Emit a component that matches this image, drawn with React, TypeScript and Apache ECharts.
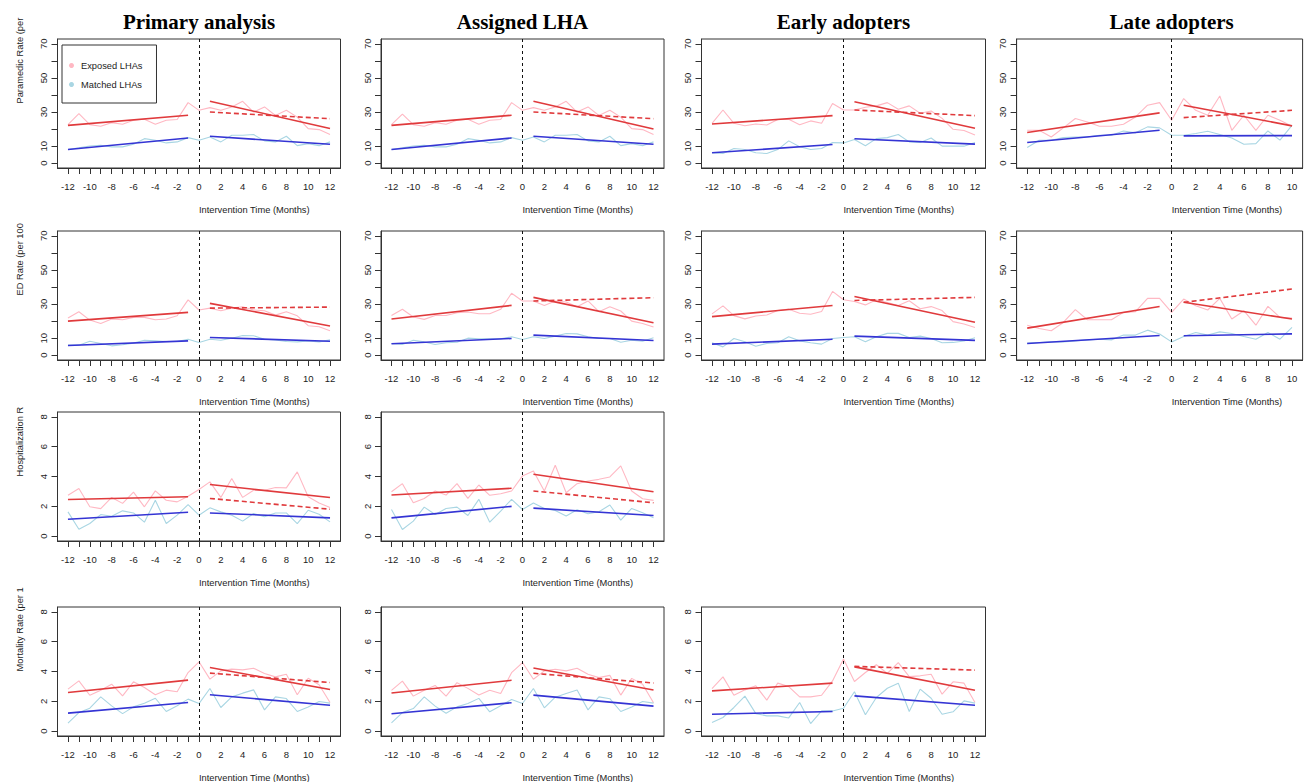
import React, { useEffect, useRef } from 'react';
import * as echarts from 'echarts';

// ---------- axis values ----------
const MONTHS = [-12, -11, -10, -9, -8, -7, -6, -5, -4, -3, -2, -1, 0, 1, 2, 3, 4, 5, 6, 7, 8, 9, 10, 11, 12];
const MONTHS_LATE = [-12, -11, -10, -9, -8, -7, -6, -5, -4, -3, -2, -1, 0, 1, 2, 3, 4, 5, 6, 7, 8, 9, 10];
const PRE_X = [-12, -1];
const POST_X = [1, 12];
const POST_X_LATE = [1, 10];
const X_LABELS = [-12, -10, -8, -6, -4, -2, 0, 2, 4, 6, 8, 10, 12];
const X_LABELS_LATE = [-12, -10, -8, -6, -4, -2, 0, 2, 4, 6, 8, 10];
const Y_TICKS_RATE = [0, 10, 20, 30, 40, 50, 60, 70];
const Y_LABELS_RATE = [0, 10, 30, 50, 70];
const Y_TICKS_SMALL = [0, 2, 4, 6, 8];

const TITLES = ['Primary analysis', 'Assigned LHA', 'Early adopters', 'Late adopters'];
const Y_NAMES = ['Paramedic Rate (per', 'ED Rate (per 100', 'Hospitalization R', 'Mortality Rate (per 1'];
const X_NAME = 'Intervention Time (Months)';
const LEGEND_NAMES = ['Exposed LHAs', 'Matched LHAs'];

// ---------- Paramedic rate ----------
const PARA_PRIMARY_EXP = [22.6, 29.1, 22.6, 21.7, 23.8, 22.8, 25.2, 25.8, 22.8, 25.2, 25.6, 35.5, 31, 32.6, 31, 33, 36.3, 30, 33, 28, 31, 27, 20.3, 19.7, 16.8];
const PARA_PRIMARY_MAT = [8, 9, 10.1, 10.5, 9.6, 9.6, 11.1, 14.4, 13.5, 11.9, 12.5, 15, 13.5, 15.4, 12.5, 16.4, 16.4, 16.8, 13.1, 12.5, 15.8, 10.3, 11.5, 10.3, 12.5];
const PARA_PRIMARY_RED_PRE = [22.2, 28.1];
const PARA_PRIMARY_RED_POST = [36.3, 20.3];
const PARA_PRIMARY_RED_CF = [30, 26.1];
const PARA_PRIMARY_BLUE_PRE = [8, 14.8];
const PARA_PRIMARY_BLUE_POST = [15.8, 11.1];

const PARA_ASSIGNED_EXP = [22.6, 28.8, 22.6, 21.7, 23.8, 22.8, 25.2, 25.8, 22.8, 25.2, 25.6, 35.5, 31, 32.6, 31, 33, 36.3, 30, 33, 28, 31, 27, 20.3, 19.7, 16.8];
const PARA_ASSIGNED_MAT = [8, 9, 10.1, 10.5, 9.6, 9.6, 11.1, 14.4, 13.5, 11.9, 12.5, 15, 13.5, 15.4, 12.5, 16.4, 16.4, 16.8, 13.1, 12.5, 15.8, 10.3, 11.5, 10.3, 12.5];
const PARA_ASSIGNED_RED_PRE = [22.2, 28.1];
const PARA_ASSIGNED_RED_POST = [36.3, 20.1];
const PARA_ASSIGNED_RED_CF = [30, 26.1];
const PARA_ASSIGNED_BLUE_PRE = [8, 14.8];
const PARA_ASSIGNED_BLUE_POST = [15.8, 11.1];

const PARA_EARLY_EXP = [23.4, 31.2, 23.4, 22, 23, 22.4, 25.6, 25.8, 22.6, 24.8, 23.4, 35, 31.2, 31.2, 32.8, 33.6, 35.5, 31.6, 33.6, 29.3, 30.6, 26.3, 19.9, 19.2, 16.6];
const PARA_EARLY_MAT = [6.1, 5.7, 8.6, 8, 6.1, 5.7, 8, 13.1, 9.6, 8, 8.6, 12.1, 11.9, 13.9, 10.2, 14.4, 15, 16.8, 12.5, 12.1, 14.8, 10, 10, 10, 12.1];
const PARA_EARLY_RED_PRE = [23, 27.9];
const PARA_EARLY_RED_POST = [36, 20.5];
const PARA_EARLY_RED_CF = [31.2, 27.9];
const PARA_EARLY_BLUE_PRE = [6.1, 11];
const PARA_EARLY_BLUE_POST = [14.3, 11.2];

const PARA_LATE_EXP = [19.3, 19.3, 15.4, 20.7, 26.2, 24.2, 21.7, 21.7, 22.8, 27.1, 34, 35.5, 25.2, 37.9, 31, 28.1, 39.4, 19.3, 28.1, 19.3, 28.1, 25.2, 21.7];
const PARA_LATE_MAT = [9.2, 13.5, 13.5, 15, 15.4, 15.4, 16.4, 16.4, 18.9, 17.8, 21.3, 20.7, 16.4, 16.4, 17.4, 18.7, 16.8, 14.8, 11.1, 11.5, 18.9, 13.5, 22.2];
const PARA_LATE_RED_PRE = [18, 29.5];
const PARA_LATE_RED_POST = [34, 21.9];
const PARA_LATE_RED_CF = [26.7, 31];
const PARA_LATE_BLUE_PRE = [12.1, 19.3];
const PARA_LATE_BLUE_POST = [16, 16.2];

// ---------- ED rate ----------
const ED_PRIMARY_EXP = [21.8, 25.5, 20.6, 18.6, 21.2, 20.8, 22.2, 22.2, 20.8, 21.2, 23.1, 32.4, 26.5, 27.6, 26.1, 27.6, 28.4, 26.5, 26.1, 23.5, 25.5, 23.1, 17.3, 16.7, 14.3];
const ED_PRIMARY_MAT = [5.9, 5.9, 8.2, 6.9, 5.5, 6.1, 7.1, 8.8, 8.4, 8, 8, 9.4, 7.5, 9.4, 8.8, 10, 11.6, 11.4, 9.4, 9, 8, 7.8, 8.4, 7.8, 9];
const ED_PRIMARY_RED_PRE = [20, 25.1];
const ED_PRIMARY_RED_POST = [30.4, 17.1];
const ED_PRIMARY_RED_CF = [27.6, 28.2];
const ED_PRIMARY_BLUE_PRE = [5.7, 8.4];
const ED_PRIMARY_BLUE_POST = [10.4, 8.2];

const ED_ASSIGNED_EXP = [23.3, 26.9, 22.4, 21, 23.3, 23.3, 24.9, 25.3, 24.3, 24.3, 26.9, 36.3, 31.8, 31.8, 29.2, 31.8, 31.2, 28.4, 31.8, 25.5, 28.4, 25.9, 20, 18.6, 16.5];
const ED_ASSIGNED_MAT = [6.9, 6.3, 8.8, 7.8, 6.3, 7.3, 7.6, 10, 9.6, 9.6, 9.6, 10.8, 9.2, 10.8, 9.8, 11.2, 12.7, 12.5, 10.8, 9.8, 9.8, 7.6, 8.8, 8.2, 10.2];
const ED_ASSIGNED_RED_PRE = [21.2, 29.2];
const ED_ASSIGNED_RED_POST = [33.9, 19];
const ED_ASSIGNED_RED_CF = [31.8, 33.7];
const ED_ASSIGNED_BLUE_PRE = [6.7, 9.8];
const ED_ASSIGNED_BLUE_POST = [11.8, 8.6];

const ED_EARLY_EXP = [24.2, 28.9, 23.2, 21.3, 23, 23.6, 26.2, 27, 24.6, 24, 25.6, 37.4, 32.5, 31.5, 29.5, 32.5, 30.9, 29.1, 31.9, 27.2, 28.5, 26.2, 19.7, 18.3, 16.3];
const ED_EARLY_MAT = [7.3, 4.9, 9.8, 7.9, 5.3, 6.9, 7.3, 10.8, 8.4, 7.3, 6.5, 9.8, 10.4, 10.8, 7.9, 10.8, 12.8, 12.8, 10.4, 11.2, 9.8, 7.3, 7.5, 8.3, 10.2];
const ED_EARLY_RED_PRE = [22.6, 29.1];
const ED_EARLY_RED_POST = [34.4, 19.3];
const ED_EARLY_RED_CF = [32.1, 33.9];
const ED_EARLY_BLUE_PRE = [6.5, 9.4];
const ED_EARLY_BLUE_POST = [11.2, 8.7];

const ED_LATE_EXP = [17.6, 15.7, 14.3, 19.2, 26.7, 20.8, 20.8, 20.8, 25.1, 25.5, 33.3, 33.3, 25.1, 32.9, 29, 26.5, 33.3, 21.2, 26.1, 17.6, 28.6, 22.2, 21.8];
const ED_LATE_MAT = [7.1, 7.5, 7.8, 7.8, 8.4, 9, 9.4, 9, 11.8, 11.8, 14.7, 12.4, 7.8, 11, 13.3, 11.8, 13.7, 12.7, 11, 9.4, 13.3, 9.4, 16.3];
const ED_LATE_RED_PRE = [15.9, 28.6];
const ED_LATE_RED_POST = [31, 21.2];
const ED_LATE_RED_CF = [31, 38.8];
const ED_LATE_BLUE_PRE = [6.9, 11.6];
const ED_LATE_BLUE_POST = [11.4, 12.5];

// ---------- Hospitalization rate ----------
const HOSP_PRIMARY_EXP = [2.75, 3.2, 1.97, 1.85, 2.6, 2.2, 2.95, 1.97, 3.04, 2.41, 2.3, 2.68, 3.13, 3.64, 2.6, 3.87, 2.6, 3.08, 3.08, 3.26, 3.24, 4.31, 2.64, 2.23, 1.92];
const HOSP_PRIMARY_MAT = [1.63, 0.47, 0.85, 1.45, 1.34, 1.7, 1.56, 0.94, 2.41, 0.85, 1.41, 2.12, 1.41, 1.9, 1.63, 1.41, 1.01, 1.52, 1.3, 1.56, 1.56, 0.85, 1.74, 1.47, 0.96];
const HOSP_PRIMARY_RED_PRE = [2.46, 2.64];
const HOSP_PRIMARY_RED_POST = [3.46, 2.59];
const HOSP_PRIMARY_RED_CF = [2.53, 1.81];
const HOSP_PRIMARY_BLUE_PRE = [1.14, 1.61];
const HOSP_PRIMARY_BLUE_POST = [1.56, 1.23];

const HOSP_ASSIGNED_EXP = [2.98, 3.52, 2.24, 2.53, 3.03, 2.76, 3.52, 2.53, 3.43, 2.74, 2.85, 3.03, 4.04, 4.37, 3.03, 4.75, 2.91, 3.52, 3.7, 3.81, 3.97, 4.71, 3.03, 2.51, 2.4];
const HOSP_ASSIGNED_MAT = [1.79, 0.45, 1.01, 1.95, 1.46, 1.86, 1.95, 1.39, 2.47, 0.94, 1.68, 2.47, 1.79, 2.22, 1.86, 1.73, 1.35, 1.77, 1.5, 1.64, 2.09, 1.08, 1.86, 1.57, 1.23];
const HOSP_ASSIGNED_RED_PRE = [2.76, 3.21];
const HOSP_ASSIGNED_RED_POST = [4.15, 2.98];
const HOSP_ASSIGNED_RED_CF = [3.03, 2.24];
const HOSP_ASSIGNED_BLUE_PRE = [1.23, 2];
const HOSP_ASSIGNED_BLUE_POST = [1.88, 1.39];

// ---------- Mortality rate ----------
const MORT_PRIMARY_EXP = [2.82, 3.37, 2.41, 2.75, 3.15, 2.37, 3.31, 2.93, 2.44, 2.75, 2.64, 3.93, 4.65, 3.49, 4.04, 4.16, 4.11, 4.22, 3.87, 3.64, 3.82, 2.44, 3.55, 3.11, 1.92];
const MORT_PRIMARY_MAT = [0.54, 1.25, 1.54, 2.3, 1.7, 1.18, 1.63, 1.88, 2.21, 1.32, 1.7, 2.15, 1.85, 2.86, 1.59, 2.3, 2.55, 2.77, 1.43, 2.3, 2.19, 1.32, 1.63, 1.99, 1.88];
const MORT_PRIMARY_RED_PRE = [2.59, 3.42];
const MORT_PRIMARY_RED_POST = [4.27, 2.79];
const MORT_PRIMARY_RED_CF = [3.89, 3.26];
const MORT_PRIMARY_BLUE_PRE = [1.21, 1.92];
const MORT_PRIMARY_BLUE_POST = [2.44, 1.74];

const MORT_ASSIGNED_EXP = [2.74, 3.36, 2.35, 2.74, 3.07, 2.35, 3.25, 2.87, 2.42, 2.74, 2.53, 3.92, 4.6, 3.48, 4.04, 4.15, 4.04, 4.22, 3.81, 3.59, 3.74, 2.42, 3.54, 3.14, 1.91];
const MORT_ASSIGNED_MAT = [0.56, 1.25, 1.52, 2.3, 1.68, 1.2, 1.63, 1.86, 2.2, 1.3, 1.7, 2.12, 1.86, 2.86, 1.57, 2.28, 2.53, 2.76, 1.43, 2.3, 2.18, 1.32, 1.62, 1.99, 1.88];
const MORT_ASSIGNED_RED_PRE = [2.56, 3.41];
const MORT_ASSIGNED_RED_POST = [4.24, 2.76];
const MORT_ASSIGNED_RED_CF = [3.88, 3.23];
const MORT_ASSIGNED_BLUE_PRE = [1.17, 1.91];
const MORT_ASSIGNED_BLUE_POST = [2.42, 1.68];

const MORT_EARLY_EXP = [2.86, 3.64, 2.41, 2.77, 3.04, 2.08, 3.22, 2.99, 2.3, 2.3, 2.41, 3.37, 4.83, 3.33, 3.93, 4.45, 3.87, 4.6, 3.66, 3.71, 3.82, 2.48, 3.31, 3.22, 1.92];
const MORT_EARLY_MAT = [0.58, 0.92, 1.59, 2.35, 1.18, 1.03, 1.03, 0.89, 1.92, 0.51, 1.36, 1.36, 1.54, 2.64, 1.1, 2.26, 2.88, 3.22, 1.32, 2.82, 2.21, 1.14, 1.3, 2.03, 1.88];
const MORT_EARLY_RED_PRE = [2.7, 3.22];
const MORT_EARLY_RED_POST = [4.31, 2.75];
const MORT_EARLY_RED_CF = [4.34, 4.09];
const MORT_EARLY_BLUE_PRE = [1.14, 1.32];
const MORT_EARLY_BLUE_POST = [2.37, 1.74];

// ---------- panel table ----------
const PANELS = [
  { row: 0, col: 0, exp: PARA_PRIMARY_EXP, mat: PARA_PRIMARY_MAT, rPre: PARA_PRIMARY_RED_PRE, rPost: PARA_PRIMARY_RED_POST, rCf: PARA_PRIMARY_RED_CF, bPre: PARA_PRIMARY_BLUE_PRE, bPost: PARA_PRIMARY_BLUE_POST },
  { row: 0, col: 1, exp: PARA_ASSIGNED_EXP, mat: PARA_ASSIGNED_MAT, rPre: PARA_ASSIGNED_RED_PRE, rPost: PARA_ASSIGNED_RED_POST, rCf: PARA_ASSIGNED_RED_CF, bPre: PARA_ASSIGNED_BLUE_PRE, bPost: PARA_ASSIGNED_BLUE_POST },
  { row: 0, col: 2, exp: PARA_EARLY_EXP, mat: PARA_EARLY_MAT, rPre: PARA_EARLY_RED_PRE, rPost: PARA_EARLY_RED_POST, rCf: PARA_EARLY_RED_CF, bPre: PARA_EARLY_BLUE_PRE, bPost: PARA_EARLY_BLUE_POST },
  { row: 0, col: 3, late: true, exp: PARA_LATE_EXP, mat: PARA_LATE_MAT, rPre: PARA_LATE_RED_PRE, rPost: PARA_LATE_RED_POST, rCf: PARA_LATE_RED_CF, bPre: PARA_LATE_BLUE_PRE, bPost: PARA_LATE_BLUE_POST },
  { row: 1, col: 0, exp: ED_PRIMARY_EXP, mat: ED_PRIMARY_MAT, rPre: ED_PRIMARY_RED_PRE, rPost: ED_PRIMARY_RED_POST, rCf: ED_PRIMARY_RED_CF, bPre: ED_PRIMARY_BLUE_PRE, bPost: ED_PRIMARY_BLUE_POST },
  { row: 1, col: 1, exp: ED_ASSIGNED_EXP, mat: ED_ASSIGNED_MAT, rPre: ED_ASSIGNED_RED_PRE, rPost: ED_ASSIGNED_RED_POST, rCf: ED_ASSIGNED_RED_CF, bPre: ED_ASSIGNED_BLUE_PRE, bPost: ED_ASSIGNED_BLUE_POST },
  { row: 1, col: 2, exp: ED_EARLY_EXP, mat: ED_EARLY_MAT, rPre: ED_EARLY_RED_PRE, rPost: ED_EARLY_RED_POST, rCf: ED_EARLY_RED_CF, bPre: ED_EARLY_BLUE_PRE, bPost: ED_EARLY_BLUE_POST },
  { row: 1, col: 3, late: true, exp: ED_LATE_EXP, mat: ED_LATE_MAT, rPre: ED_LATE_RED_PRE, rPost: ED_LATE_RED_POST, rCf: ED_LATE_RED_CF, bPre: ED_LATE_BLUE_PRE, bPost: ED_LATE_BLUE_POST },
  { row: 2, col: 0, exp: HOSP_PRIMARY_EXP, mat: HOSP_PRIMARY_MAT, rPre: HOSP_PRIMARY_RED_PRE, rPost: HOSP_PRIMARY_RED_POST, rCf: HOSP_PRIMARY_RED_CF, bPre: HOSP_PRIMARY_BLUE_PRE, bPost: HOSP_PRIMARY_BLUE_POST },
  { row: 2, col: 1, exp: HOSP_ASSIGNED_EXP, mat: HOSP_ASSIGNED_MAT, rPre: HOSP_ASSIGNED_RED_PRE, rPost: HOSP_ASSIGNED_RED_POST, rCf: HOSP_ASSIGNED_RED_CF, bPre: HOSP_ASSIGNED_BLUE_PRE, bPost: HOSP_ASSIGNED_BLUE_POST },
  { row: 3, col: 0, exp: MORT_PRIMARY_EXP, mat: MORT_PRIMARY_MAT, rPre: MORT_PRIMARY_RED_PRE, rPost: MORT_PRIMARY_RED_POST, rCf: MORT_PRIMARY_RED_CF, bPre: MORT_PRIMARY_BLUE_PRE, bPost: MORT_PRIMARY_BLUE_POST },
  { row: 3, col: 1, exp: MORT_ASSIGNED_EXP, mat: MORT_ASSIGNED_MAT, rPre: MORT_ASSIGNED_RED_PRE, rPost: MORT_ASSIGNED_RED_POST, rCf: MORT_ASSIGNED_RED_CF, bPre: MORT_ASSIGNED_BLUE_PRE, bPost: MORT_ASSIGNED_BLUE_POST },
  { row: 3, col: 2, exp: MORT_EARLY_EXP, mat: MORT_EARLY_MAT, rPre: MORT_EARLY_RED_PRE, rPost: MORT_EARLY_RED_POST, rCf: MORT_EARLY_RED_CF, bPre: MORT_EARLY_BLUE_PRE, bPost: MORT_EARLY_BLUE_POST },
];

// ---------- layout & style ----------
const COL_LEFT = [57.5, 381, 701.5, 1016.6];
const COL_W = [283, 283, 284, 286];
const ROW_TOP = [39, 231, 412, 607];
const BOX_H = 129;
const ROW_YMAX = [70, 70, 8, 8];

const PINK = '#ffb8c3';
const LIGHTBLUE = '#a9d6e3';
const RED = '#e03a3c';
const BLUE = '#3434d4';
const AXIS = '#333333';
const TEXT = '#1c1c1c';
const SANS = '"Liberation Sans", Arial, sans-serif';
const SERIF = '"Liberation Serif", "Times New Roman", serif';

const pairs = (xs: number[], ys: number[]) => xs.map((x, k) => [x, ys[k]]);

function buildOption() {
  const grid: any[] = [];
  const xAxis: any[] = [];
  const yAxis: any[] = [];
  const series: any[] = [];
  const graphic: any[] = [];

  PANELS.forEach((p: any, i) => {
    const months = p.late ? MONTHS_LATE : MONTHS;
    const postX = p.late ? POST_X_LATE : POST_X;
    const xLo = months[0];
    const xHi = months[months.length - 1];
    const xr = xHi - xLo;
    const xmin = xLo - 0.04 * xr;
    const xmax = xHi + 0.04 * xr;
    const yTop = ROW_YMAX[p.row];
    const ymin = -0.04 * yTop;
    const ymax = yTop * 1.04;
    const left = COL_LEFT[p.col];
    const width = COL_W[p.col];
    const top = ROW_TOP[p.row];
    const rate = p.row < 2;

    grid.push({
      left, top, width, height: BOX_H,
      show: true, borderColor: AXIS, borderWidth: 1, backgroundColor: 'transparent',
      containLabel: false, outerBoundsMode: 'none',
    });
    xAxis.push({
      gridIndex: i, type: 'value', min: xmin, max: xmax,
      axisLine: { show: true, onZero: false, lineStyle: { color: AXIS, width: 1 } },
      axisTick: { show: true, length: 6, inside: false, customValues: months, lineStyle: { color: AXIS, width: 1 } },
      axisLabel: {
        show: true, customValues: p.late ? X_LABELS_LATE : X_LABELS, margin: 13,
        fontSize: 9.5, fontFamily: SANS, color: TEXT, formatter: (v: number) => String(v),
      },
      splitLine: { show: false },
    });
    yAxis.push({
      gridIndex: i, type: 'value', min: ymin, max: ymax,
      axisLine: { show: true, onZero: false, lineStyle: { color: AXIS, width: 1 } },
      axisTick: { show: true, length: 6, inside: false, customValues: rate ? Y_TICKS_RATE : Y_TICKS_SMALL, lineStyle: { color: AXIS, width: 1 } },
      axisLabel: {
        show: true, customValues: rate ? Y_LABELS_RATE : Y_TICKS_SMALL, rotate: 90, margin: 9,
        fontSize: 9.5, fontFamily: SANS, color: TEXT, formatter: (v: number) => String(v),
      },
      splitLine: { show: false },
    });

    const base = { type: 'line', xAxisIndex: i, yAxisIndex: i, symbol: 'none', showSymbol: false, silent: true, emphasis: { disabled: true }, animation: false };
    series.push({
      ...base, name: LEGEND_NAMES[0], data: pairs(months, p.exp), z: 2,
      itemStyle: { color: PINK }, lineStyle: { color: PINK, width: 1.1 },
      markLine: {
        silent: true, symbol: ['none', 'none'], label: { show: false },
        lineStyle: { color: '#111', type: [3, 3], width: 1 }, emphasis: { disabled: true },
        data: [{ xAxis: 0 }],
      },
    });
    series.push({ ...base, name: LEGEND_NAMES[1], data: pairs(months, p.mat), z: 2, itemStyle: { color: LIGHTBLUE }, lineStyle: { color: LIGHTBLUE, width: 1.1 } });
    series.push({ ...base, name: 'fit-red-pre', data: pairs(PRE_X, p.rPre), z: 3, lineStyle: { color: RED, width: 1.6 } });
    series.push({ ...base, name: 'fit-red-post', data: pairs(postX, p.rPost), z: 3, lineStyle: { color: RED, width: 1.6 } });
    series.push({ ...base, name: 'fit-red-cf', data: pairs(postX, p.rCf), z: 3, lineStyle: { color: RED, width: 1.6, type: [5, 3] } });
    series.push({ ...base, name: 'fit-blue-pre', data: pairs(PRE_X, p.bPre), z: 3, lineStyle: { color: BLUE, width: 1.6 } });
    series.push({ ...base, name: 'fit-blue-post', data: pairs(postX, p.bPost), z: 3, lineStyle: { color: BLUE, width: 1.6 } });

    const x0 = left + ((0 - xmin) / (xmax - xmin)) * width;
    if (p.row === 0) {
      graphic.push({
        type: 'text', x: x0, y: 22, silent: true,
        style: { text: TITLES[p.col], fontSize: 21, fontWeight: 'bold', fontFamily: SERIF, fill: '#000', align: 'center', verticalAlign: 'middle' },
      });
    }
    if (p.col === 0) {
      graphic.push({
        type: 'text', x: 20, y: top + BOX_H / 2, rotation: Math.PI / 2, silent: true,
        style: { text: Y_NAMES[p.row], fontSize: 9.3, fontFamily: SANS, fill: TEXT, align: 'left', verticalAlign: 'middle' },
      });
    }
    graphic.push({
      type: 'text', x: x0, y: top + BOX_H + 42, silent: true,
      style: { text: X_NAME, fontSize: 9.3, fontFamily: SANS, fill: TEXT, align: 'left', verticalAlign: 'middle' },
    });
  });

  return {
    animation: false,
    backgroundColor: '#ffffff',
    grid, xAxis, yAxis, series, graphic,
    legend: {
      show: true, data: LEGEND_NAMES, orient: 'vertical', left: 62, top: 45,
      icon: 'circle', itemWidth: 5, itemHeight: 5, itemGap: 10,
      selectedMode: false,
      borderColor: AXIS, borderWidth: 1, backgroundColor: '#fff',
      padding: [16, 14, 14, 7],
      textStyle: { fontSize: 9.3, fontFamily: SANS, color: TEXT, padding: [0, 0, 0, 2] },
    },
  };
}

export default function App() {
  const ref = useRef<HTMLDivElement>(null);
  useEffect(() => {
    const chart = echarts.init(ref.current!, null, { renderer: 'svg' });
    chart.setOption(buildOption() as any);
    return () => chart.dispose();
  }, []);
  return <div ref={ref} style={{ position: 'fixed', left: 0, top: 0, width: 1310, height: 782, background: '#fff' }} />;
}
